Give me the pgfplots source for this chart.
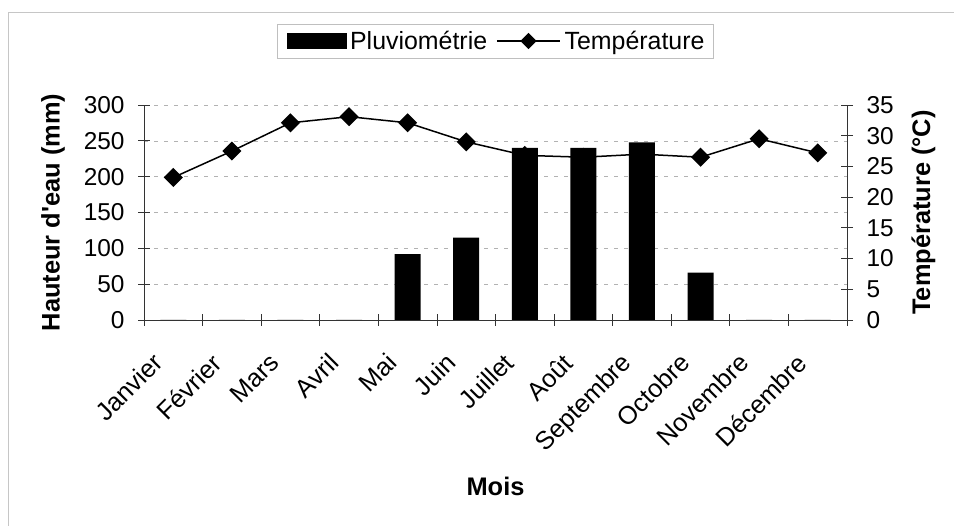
\documentclass[border=0pt]{standalone}
\usepackage{pgfplots}
\pgfplotsset{compat=1.18}
\usepackage{fontspec}
\setmainfont{Liberation Sans}

\pgfplotstableread{
x pluie temp
0 0 23.2
1 0 27.5
2 0 32.1
3 0 33.1
4 92 32.1
5 115 29.0
6 240 26.8
7 240 26.5
8 248 27.0
9 66 26.5
10 0 29.5
11 0 27.2
}\data

\newcommand{\labfont}{\bfseries\fontsize{25.5}{30}\selectfont}
\pgfplotsset{
 base/.style={
  at={(144bp,206bp)}, anchor=south west, scale only axis,
  width=703bp, height=215bp,
  xmin=-0.5, xmax=11.5,
  /pgf/number format/assume math mode=true,
  tick label style={font=\fontsize{24.5}{29}\selectfont},
  tick align=center, major tick length=12bp,
  axis line style={black!80, line width=0.8bp},
  tick style={black!80, line width=0.8bp},
 }
}

\begin{document}
\begin{tikzpicture}
\path[use as bounding box] (0bp,0bp) rectangle (954bp,526bp);
\draw[gray!45, line width=0.8bp] (8bp,0bp) -- (8bp,514bp) -- (954bp,514bp);

% axis 1: left scale, grid, x labels, legend
\begin{axis}[base,
  ymin=0, ymax=300, ytick={0,50,...,300},
  axis y line*=left, axis x line*=bottom,
  yticklabel style={xshift=-10bp},
  xtick={-0.5,0.5,...,11.5}, x tick label as interval,
  xticklabels={Janvier,Février,Mars,Avril,Mai,Juin,Juillet,Août,Septembre,Octobre,Novembre,Décembre},
  xticklabel style={xshift=-22bp, yshift=-21bp, rotate=45, anchor=north east,
    font=\fontsize{25.5}{30}\selectfont},
  ymajorgrids, grid style={gray!60, dash pattern=on 4bp off 6bp, line width=0.6bp},
  ylabel={Hauteur d\textquotesingle eau (mm)}, xlabel={Mois},
  every axis y label/.style={at={(rel axis cs:0,0.5)}, xshift=-91bp, rotate=90, anchor=center, font=\labfont},
  every axis x label/.style={at={(rel axis cs:0.5,0)}, yshift=-166bp, anchor=center, font=\labfont},
  legend columns=2,
  legend style={at={(rel axis cs:0.5,1)}, anchor=center, yshift=64bp,
    draw=gray!50, line width=0.6bp, font=\fontsize{25}{30}\selectfont,
    inner xsep=9bp, inner ysep=7bp,
    nodes={inner sep=0bp},
    /tikz/every odd column/.append style={column sep=4bp},
    /tikz/every even column/.append style={column sep=9bp}},
]
\addlegendimage{legend image code/.code={\fill[black] (0bp,-7.5bp) rectangle (59bp,7.5bp);}}
\addlegendentry{Pluviométrie}
\addlegendimage{black, line width=1.5bp, mark=square*, mark size=5bp, mark options={rotate=45},
  legend image code/.code={\draw[mark repeat=2, mark phase=2] plot coordinates {(0bp,0bp) (31.5bp,0bp) (63bp,0bp)};}}
\addlegendentry{Température}
\end{axis}

% axis 2: temperature, right scale
\begin{axis}[base,
  ymin=0, ymax=35, ytick={0,5,...,35},
  axis y line*=right, axis x line=none,
  yticklabel style={xshift=10bp},
  ylabel={Température (°C)},
  every axis y label/.style={at={(rel axis cs:1,0.5)}, xshift=76.5bp, rotate=90, anchor=center, font=\labfont},
]
\addplot[black, line width=1.5bp, mark=square*, mark size=6bp, mark options={rotate=45}]
  table[x=x, y=temp] {\data};
\end{axis}

% axis 3: bars on top
\begin{axis}[base,
  ymin=0, ymax=300, axis lines=none, ybar, bar width=26bp,
]
\addplot[fill=black, draw=none] table[x=x, y=pluie] {\data};
\end{axis}
\end{tikzpicture}
\end{document}
